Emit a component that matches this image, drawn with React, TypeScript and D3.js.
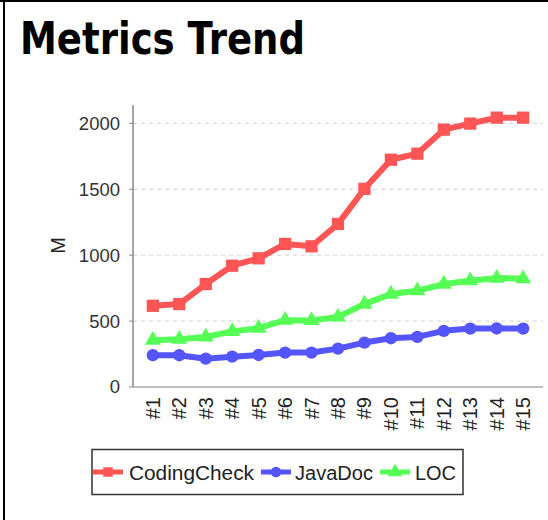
import React from "react";
import * as d3 from "d3";

const categories = ["#1","#2","#3","#4","#5","#6","#7","#8","#9","#10","#11","#12","#13","#14","#15"];
const codingCheck = [616, 629, 781, 920, 976, 1085, 1067, 1237, 1503, 1724, 1770, 1952, 1998, 2043, 2043];
const javaDoc = [241, 241, 215, 230, 243, 261, 261, 291, 337, 370, 380, 426, 443, 444, 443];
const loc = [355, 363, 380, 421, 446, 507, 505, 532, 629, 705, 730, 781, 806, 826, 822];
const yTicks = [0, 500, 1000, 1500, 2000];
const seriesNames = ["CodingCheck", "JavaDoc", "LOC"];

const W = 548, H = 520;
const plotLeft = 133, plotRight = 543, plotTop = 105, plotBottom = 387;

export default function App() {
  const x = d3.scalePoint<string>().domain(categories).range([plotLeft, plotRight]).padding(0.75);
  const y = d3.scaleLinear().domain([0, 2139]).range([plotBottom, plotTop]);
  const series = [
    { name: seriesNames[0], values: codingCheck, color: "#FF5555", shape: "square" },
    { name: seriesNames[1], values: javaDoc, color: "#5555FF", shape: "circle" },
    { name: seriesNames[2], values: loc, color: "#55FF55", shape: "triangle" },
  ];
  const line = d3.line<number>().x((_, i) => x(categories[i])!).y((d) => y(d));
  const sym = (shape: string, size: number) =>
    d3.symbol().type(shape === "square" ? d3.symbolSquare : shape === "circle" ? d3.symbolCircle : d3.symbolTriangle).size(size)()!;

  const legendItems = [
    { lx: 93, tx: 129, tl: 125 },
    { lx: 261, tx: 295, tl: 78 },
    { lx: 380, tx: 415, tl: 41 },
  ];
  const font = "'Liberation Sans', Arial, sans-serif";

  return (
    <svg width={W} height={H} style={{ position: "absolute", left: 0, top: 0, background: "#fff" }}>
      <rect x={0} y={0} width={W} height={H} fill="#fff" />
      <line x1={0} y1={1} x2={W} y2={1} stroke="#000" strokeWidth={2} />
      <line x1={4} y1={0} x2={4} y2={H} stroke="#000" strokeWidth={2} />
      <text x={20} y={54} fontFamily="'DejaVu Sans', Verdana, sans-serif" fontWeight="bold" fontSize={44} textLength={285} lengthAdjust="spacingAndGlyphs" fill="#000">Metrics Trend</text>

      {yTicks.filter((t) => t > 0).map((t) => (
        <line key={"g" + t} x1={plotLeft} x2={plotRight} y1={y(t)} y2={y(t)} stroke="#d0d0d0" strokeDasharray="4,4" strokeWidth={1} />
      ))}
      <line x1={plotLeft} x2={plotLeft} y1={plotTop} y2={plotBottom} stroke="#888" strokeWidth={1.5} />
      <line x1={plotLeft} x2={plotRight} y1={plotBottom} y2={plotBottom} stroke="#aaa" strokeWidth={1.5} />
      {yTicks.map((t) => (
        <g key={"t" + t}>
          <line x1={plotLeft - 4} x2={plotLeft} y1={y(t)} y2={y(t)} stroke="#888" strokeWidth={1} />
          <text x={120} y={y(t)} dy="0.35em" textAnchor="end" fontFamily={font} fontSize={18.5} fill="#333">{t}</text>
        </g>
      ))}
      <text transform={`translate(57.5,245.5) rotate(-90)`} textAnchor="middle" dy="0.35em" fontFamily={font} fontSize={20} fill="#222">M</text>

      {categories.map((c) => (
        <text key={c} transform={`translate(${x(c)},397) rotate(-90)`} textAnchor="end" dy="0.35em" fontFamily={font} fontSize={20} fill="#222">{c}</text>
      ))}

      {series.map((s) => (
        <g key={s.name}>
          <path d={line(s.values)!} fill="none" stroke={s.color} strokeWidth={6} strokeLinejoin="round" />
          {s.values.map((v, i) => (
            <path key={i} d={sym(s.shape, s.shape === "square" ? 150 : s.shape === "circle" ? 120 : 110)} transform={`translate(${x(categories[i])},${y(v)})`} fill={s.color} />
          ))}
        </g>
      ))}

      <rect x={92} y={449.5} width={371} height={45} fill="#fff" stroke="#333" strokeWidth={1.5} />
      {series.map((s, i) => (
        <g key={"l" + s.name}>
          <line x1={legendItems[i].lx} x2={legendItems[i].lx + 30} y1={472} y2={472} stroke={s.color} strokeWidth={5} />
          <path d={sym(s.shape, 90)} transform={`translate(${legendItems[i].lx + 15},472)`} fill={s.color} />
          <text x={legendItems[i].tx} y={480} fontFamily={font} fontSize={20} textLength={legendItems[i].tl} lengthAdjust="spacingAndGlyphs" fill="#222">{s.name}</text>
        </g>
      ))}
    </svg>
  );
}
